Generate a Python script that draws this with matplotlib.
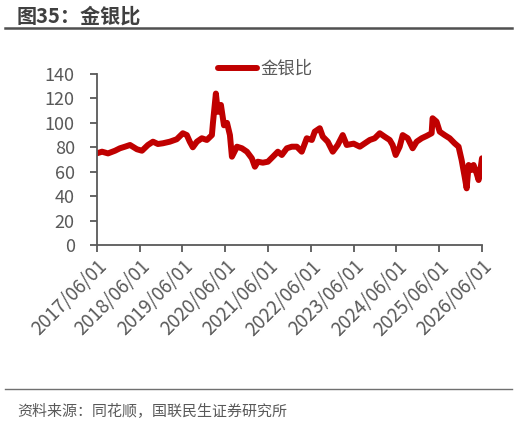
import pandas as pd
import matplotlib.pyplot as plt
import matplotlib.dates as mdates

plt.rcParams['font.family'] = ['Noto Sans CJK SC', 'DejaVu Sans']

# ── DATA ───────────────────────────────────────────────
dates = [
    "2017-06-01", "2017-07-14", "2017-09-03", "2017-11-02", "2017-12-14",
    "2018-01-26", "2018-03-10", "2018-05-08", "2018-06-20", "2018-08-10",
    "2018-09-22", "2018-11-03", "2018-12-16", "2019-02-13", "2019-04-13",
    "2019-06-04", "2019-07-08", "2019-08-02", "2019-08-28", "2019-10-02",
    "2019-11-13", "2019-12-26", "2020-02-07", "2020-02-16", "2020-03-12",
    "2020-03-29", "2020-04-24", "2020-05-20", "2020-06-15", "2020-07-10",
    "2020-07-27", "2020-09-08", "2020-10-20", "2020-12-02", "2021-01-13",
    "2021-02-08", "2021-03-05", "2021-04-17", "2021-05-30", "2021-07-12",
    "2021-08-23", "2021-09-26", "2021-11-08", "2021-12-20", "2022-02-01",
    "2022-03-15", "2022-04-27", "2022-06-09", "2022-07-04", "2022-08-16",
    "2022-09-11", "2022-10-23", "2022-12-05", "2023-01-16", "2023-02-28",
    "2023-04-03", "2023-06-01", "2023-07-24", "2023-09-05", "2023-10-17",
    "2023-11-28", "2024-01-10", "2024-02-21", "2024-04-04", "2024-04-29",
    "2024-05-25", "2024-06-28", "2024-07-24", "2024-09-05", "2024-10-17",
    "2024-11-20", "2025-01-02", "2025-02-13", "2025-03-28", "2025-04-05",
    "2025-05-09", "2025-06-05", "2025-07-17", "2025-08-29", "2025-10-10",
    "2025-11-13", "2025-12-09", "2026-01-04", "2026-01-21", "2026-02-07",
    "2026-03-04", "2026-03-21", "2026-04-16", "2026-05-03", "2026-05-20",
    "2026-06-01",
]
ratio = [
    75.1, 76.4, 75.0, 77.2, 79.2,
    80.5, 81.9, 78.4, 77.2, 81.9,
    84.6, 82.7, 83.3, 84.6, 86.6,
    91.5, 90.0, 84.6, 80.0, 84.6,
    87.4, 86.0, 90.0, 100.0, 124.0,
    109.0, 114.7, 98.0, 100.0, 90.0,
    72.3, 80.5, 79.2, 76.4, 71.0,
    64.1, 68.2, 67.4, 68.2, 72.3,
    76.4, 73.7, 79.2, 80.5, 80.5,
    76.4, 87.4, 86.0, 92.8, 95.6,
    88.7, 84.6, 76.4, 81.9, 90.0,
    81.9, 83.0, 80.5, 83.3, 86.0,
    87.4, 91.5, 88.7, 86.0, 81.9,
    73.7, 80.5, 90.0, 87.4, 79.2,
    84.6, 87.4, 89.3, 91.5, 103.8,
    101.0, 92.8, 90.0, 87.4, 83.3,
    80.5, 69.6, 55.9, 46.4, 65.5,
    61.4, 65.5, 58.7, 53.2, 62.8,
    71.0,
]
y_ticks = [0, 20, 40, 60, 80, 100, 120, 140]
x_ticks = [f"{y}-06-01" for y in range(2017, 2027)]

RED = "#C00000"
GREY = "#595959"

df = pd.DataFrame({"date": pd.to_datetime(dates), "ratio": ratio})

fig = plt.figure(figsize=(5.17, 4.23), dpi=100)
ax = fig.add_axes([0.1876, 0.4208, 0.7447, 0.4042])

ax.plot(df["date"], df["ratio"], color=RED, lw=4.3, label="金银比",
        solid_joinstyle="round", solid_capstyle="round")

ax.set_ylim(0, 140)
ax.set_yticks(y_ticks)
ax.set_xlim(pd.Timestamp(x_ticks[0]), pd.Timestamp(x_ticks[-1]))
ax.set_xticks(pd.to_datetime(x_ticks))
ax.xaxis.set_major_formatter(mdates.DateFormatter("%Y/%m/%d"))

for s in ["top", "right"]:
    ax.spines[s].set_visible(False)
for s in ["left", "bottom"]:
    ax.spines[s].set_color(GREY)
    ax.spines[s].set_linewidth(1.3)

ax.tick_params(axis="both", colors=GREY, labelcolor=GREY, length=5, width=1.3)
ax.tick_params(axis="y", labelsize=13, pad=11)
ax.tick_params(axis="x", labelsize=13.5, pad=3)
plt.setp(ax.get_xticklabels(), rotation=45, ha="right", rotation_mode="anchor")

ax.legend(loc="center", bbox_to_anchor=(0.437, 1.03), frameon=False,
          fontsize=12.5, labelcolor=GREY, handlelength=2.2, handletextpad=0.2,
          borderpad=0.1)

# title + rules
fig.text(0.033, 0.962, "图35：金银比", fontsize=14.5, fontweight="bold",
         color="#404040", va="center", ha="left")
fig.add_artist(plt.Line2D([0.01, 0.99], [0.934, 0.934], color="#505050",
                          lw=1.8, transform=fig.transFigure))
fig.add_artist(plt.Line2D([0.01, 0.99], [0.08, 0.08], color="#707070",
                          lw=1.0, transform=fig.transFigure))
fig.text(0.033, 0.026, "资料来源：同花顺，国联民生证券研究所", fontsize=10.8,
         color=GREY, va="center", ha="left")

fig.savefig("out.png", dpi=100)
